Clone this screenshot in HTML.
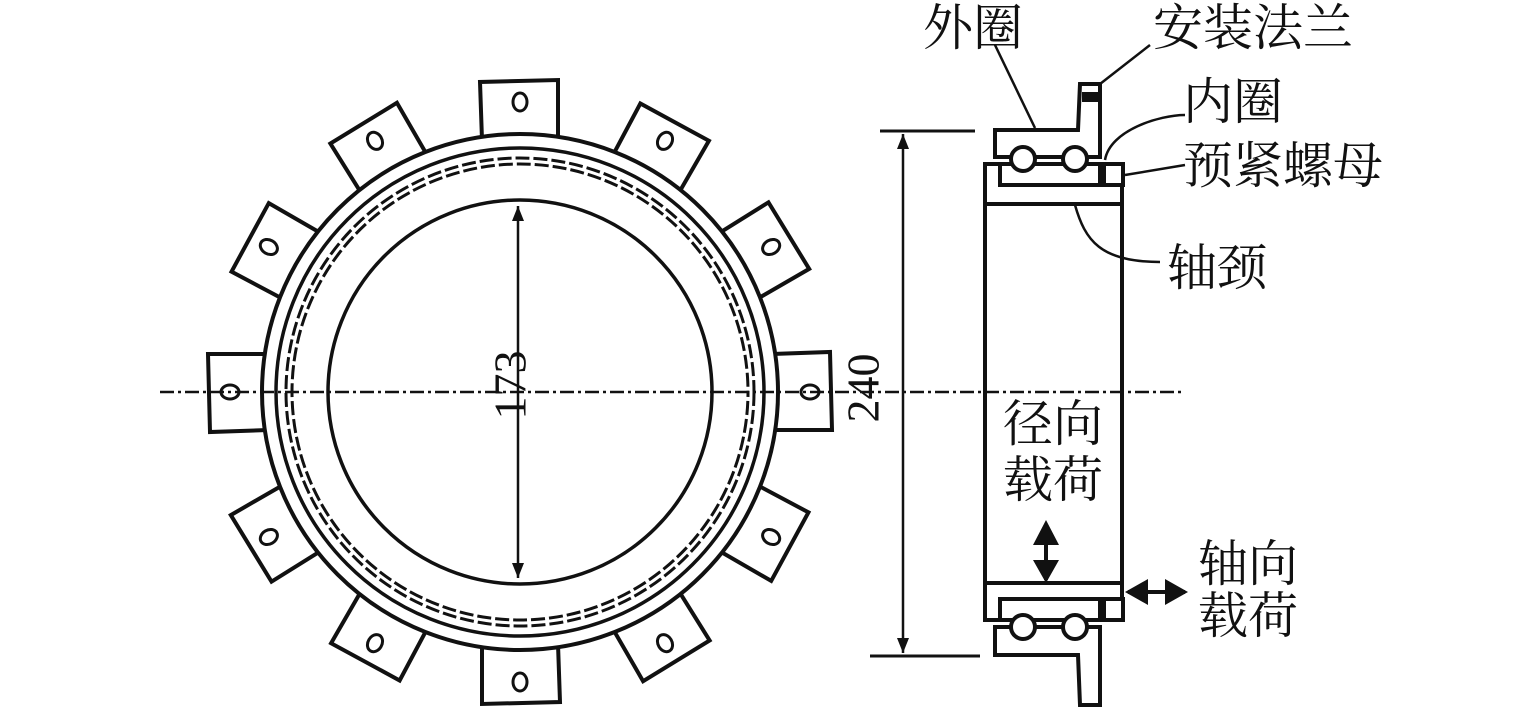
<!DOCTYPE html>
<html><head><meta charset="utf-8"><style>
html,body{margin:0;padding:0;background:#fff;}
svg{display:block}
text{font-family:"Liberation Serif","Noto Serif CJK SC",serif;fill:#111;}
</style></head><body>
<svg width="1535" height="716" viewBox="0 0 1535 716" xmlns="http://www.w3.org/2000/svg">
<defs>
<g id="lug">
<path d="M-38,-252 L-40,-310 L38,-312 L38,-252" fill="#fff" stroke="#111" stroke-width="4"/>
<ellipse cx="0" cy="-290" rx="7" ry="9" fill="none" stroke="#111" stroke-width="3"/>
</g>
<marker id="ah" viewBox="0 0 10 10" refX="10" refY="5" markerWidth="6" markerHeight="6" orient="auto-start-reverse"><path d="M0,1 L10,5 L0,9z" fill="#111"/></marker>
</defs>
<g transform="translate(520,392)">
<use href="#lug" transform="rotate(0)"/><use href="#lug" transform="rotate(30)"/><use href="#lug" transform="rotate(60)"/>
<use href="#lug" transform="rotate(90)"/><use href="#lug" transform="rotate(120)"/><use href="#lug" transform="rotate(150)"/>
<use href="#lug" transform="rotate(180)"/><use href="#lug" transform="rotate(210)"/><use href="#lug" transform="rotate(240)"/>
<use href="#lug" transform="rotate(270)"/><use href="#lug" transform="rotate(300)"/><use href="#lug" transform="rotate(330)"/>
<circle r="258" fill="#fff" stroke="#111" stroke-width="4"/>
<circle r="244" fill="none" stroke="#111" stroke-width="3.5"/>
<circle r="234" fill="none" stroke="#111" stroke-width="3" stroke-dasharray="14 4"/>
<circle r="228" fill="none" stroke="#111" stroke-width="3" stroke-dasharray="14 4" stroke-dashoffset="9"/>
<circle r="192" fill="none" stroke="#111" stroke-width="3.5"/>
</g>
<line x1="160" y1="392" x2="1185" y2="392" stroke="#111" stroke-width="2.5" stroke-dasharray="14 4 3 4"/>
<line x1="518" y1="206" x2="518" y2="578" stroke="#111" stroke-width="2.5" marker-start="url(#ah)" marker-end="url(#ah)"/>
<text transform="translate(515,385) rotate(-90)" font-size="46" text-anchor="middle" dominant-baseline="middle">173</text>
<line x1="880" y1="131" x2="975" y2="131" stroke="#111" stroke-width="3"/>
<line x1="870" y1="656" x2="980" y2="656" stroke="#111" stroke-width="3"/>
<line x1="903" y1="134" x2="903" y2="653" stroke="#111" stroke-width="2.5" marker-start="url(#ah)" marker-end="url(#ah)"/>
<text transform="translate(868,388) rotate(-90)" font-size="46" text-anchor="middle" dominant-baseline="middle">240</text>
<g fill="none" stroke="#111" stroke-width="4">
<path d="M985,620 L985,164 L1122,164 L1122,620 Z"/>
<line x1="985" y1="204" x2="1122" y2="204"/>
<line x1="985" y1="583" x2="1122" y2="583"/>
<rect x="1000" y="164" width="100" height="21" fill="#fff"/>
<rect x="1104" y="164" width="19" height="21" fill="#fff"/>
<path d="M995,157 L995,130 L1078,130 L1080,84 L1100,84 L1100,157 Z" fill="#fff"/>
<circle cx="1023" cy="159" r="12" fill="#fff"/><circle cx="1075" cy="159" r="12" fill="#fff"/>
<rect x="1000" y="599" width="100" height="21" fill="#fff"/>
<rect x="1104" y="599" width="19" height="21" fill="#fff"/>
<path d="M995,627 L995,655 L1078,655 L1080,705 L1100,705 L1100,627 Z" fill="#fff"/>
<circle cx="1023" cy="627" r="12" fill="#fff"/><circle cx="1075" cy="627" r="12" fill="#fff"/>
</g>
<rect x="1082" y="92" width="16" height="10" fill="#111"/>
<g fill="none" stroke="#111" stroke-width="2.5">
<path d="M995,45 L1035,128"/>
<path d="M1150,45 L1100,84"/>
<path d="M1185,115 C1160,115 1110,130 1105,160"/>
<path d="M1185,165 L1125,175"/>
<path d="M1160,262 C1100,262 1085,240 1075,205"/>
</g>
<line x1="1046" y1="525" x2="1046" y2="580" stroke="#111" stroke-width="4"/>
<path d="M1033,545 L1046,520 L1059,545Z M1033,560 L1046,583 L1059,560Z" fill="#111"/>
<line x1="1128" y1="592" x2="1185" y2="592" stroke="#111" stroke-width="4"/>
<path d="M1125,592 L1148,579 L1148,605Z M1188,592 L1165,579 L1165,605Z" fill="#111"/>
<g font-size="50">
<text x="923" y="45">外圈</text>
<text x="1153" y="45">安装法兰</text>
<text x="1183" y="119">内圈</text>
<text x="1183" y="183">预紧螺母</text>
<text x="1167" y="285">轴颈</text>
<text x="1003" y="441">径向</text>
<text x="1003" y="497">载荷</text>
<text x="1198" y="581">轴向</text>
<text x="1198" y="633">载荷</text>
</g>
</svg>
</body></html>
